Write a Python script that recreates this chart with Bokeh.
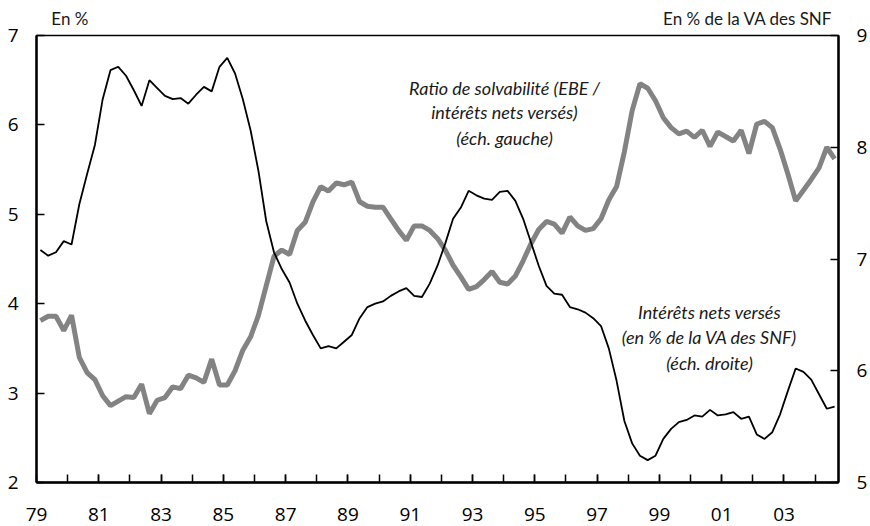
from bokeh.plotting import figure
from bokeh.models import Range1d, LinearAxis, FixedTicker, Label
from bokeh.embed import file_html
from bokeh.resources import INLINE
import numpy as np

# ---- data (quarterly, 1979Q1 .. 2004Q3) ----
start_year = 1979
ratio_solvabilite = [
    3.81, 3.86, 3.86, 3.70, 3.87, 3.40, 3.23, 3.15, 2.97, 2.86,
    2.91, 2.96, 2.95, 3.10, 2.77, 2.92, 2.95, 3.07, 3.05, 3.20,
    3.17, 3.12, 3.38, 3.09, 3.09, 3.25, 3.48, 3.63, 3.87, 4.20,
    4.53, 4.60, 4.55, 4.82, 4.91, 5.14, 5.31, 5.26, 5.35, 5.33,
    5.36, 5.14, 5.09, 5.08, 5.08, 4.95, 4.82, 4.71, 4.87, 4.87,
    4.82, 4.73, 4.60, 4.43, 4.30, 4.16, 4.19, 4.27, 4.36, 4.24,
    4.22, 4.31, 4.48, 4.67, 4.83, 4.92, 4.89, 4.79, 4.97, 4.87,
    4.82, 4.84, 4.95, 5.16, 5.31, 5.70, 6.16, 6.46, 6.41, 6.27,
    6.08, 5.97, 5.90, 5.93, 5.86, 5.94, 5.76, 5.92, 5.87, 5.82,
    5.94, 5.68, 6.01, 6.04, 5.97, 5.73, 5.45, 5.15, 5.27, 5.39,
    5.52, 5.75, 5.62,
]
interets_nets = [
    7.08, 7.03, 7.06, 7.16, 7.13, 7.49, 7.76, 8.02, 8.43, 8.69,
    8.72, 8.64, 8.51, 8.37, 8.60, 8.53, 8.46, 8.43, 8.44, 8.39,
    8.47, 8.54, 8.50, 8.72, 8.80, 8.66, 8.43, 8.15, 7.79, 7.34,
    7.06, 6.91, 6.79, 6.60, 6.45, 6.32, 6.20, 6.22, 6.20, 6.26,
    6.32, 6.47, 6.57, 6.60, 6.62, 6.67, 6.71, 6.74, 6.67, 6.66,
    6.78, 6.94, 7.14, 7.36, 7.46, 7.61, 7.57, 7.54, 7.53, 7.60,
    7.61, 7.52, 7.36, 7.15, 6.94, 6.76, 6.69, 6.68, 6.57, 6.55,
    6.52, 6.47, 6.40, 6.20, 5.91, 5.55, 5.35, 5.24, 5.20, 5.24,
    5.39, 5.48, 5.54, 5.56, 5.60, 5.59, 5.65, 5.60, 5.61, 5.63,
    5.57, 5.59, 5.43, 5.39, 5.45, 5.61, 5.82, 6.02, 5.99, 5.92,
    5.79, 5.66, 5.68,
]
x_tick_years = [1979, 1981, 1983, 1985, 1987, 1989, 1991, 1993, 1995, 1997, 1999, 2001, 2003]
x_tick_labels = ["79", "81", "83", "85", "87", "89", "91", "93", "95", "97", "99", "01", "03"]
x_minor_years = list(range(1980, 2005))
left_ticks = [2, 3, 4, 5, 6, 7]
right_ticks = [5, 6, 7, 8, 9]
unit_left = "En %"
unit_right = "En % de la VA des SNF"

n = len(ratio_solvabilite)
x = start_year + (np.arange(n) + 0.5) / 4.0

TICK_FONT = "Open Sans"
TXT_FONT = "Lato"

W, H = 870, 526
p = figure(width=W, height=H, output_backend="svg", toolbar_location=None,
           x_range=Range1d(1979, 2004.75), y_range=Range1d(2, 7),
           min_border_left=36, min_border_right=31, min_border_top=35, min_border_bottom=44)
p.extra_y_ranges = {"right": Range1d(5, 9)}
p.grid.visible = False
p.outline_line_color = "black"
p.outline_line_width = 1.3
p.background_fill_color = "white"
p.border_fill_color = "white"

# bottom axis
xa = p.xaxis[0]
xa.ticker = FixedTicker(ticks=x_tick_years, minor_ticks=x_minor_years)
xa.major_label_overrides = {y: l for y, l in zip(x_tick_years, x_tick_labels)}
xa.major_tick_in = 8
xa.major_tick_out = 0
xa.minor_tick_in = 8
xa.minor_tick_out = 0
xa.major_label_standoff = 25

# left axis
ya = p.yaxis[0]
ya.ticker = FixedTicker(ticks=left_ticks)
ya.major_label_standoff = 18

# right axis
ra = LinearAxis(y_range_name="right", ticker=FixedTicker(ticks=right_ticks))
ra.major_label_standoff = 18
p.add_layout(ra, "right")

for ax in [xa, ya, ra]:
    ax.axis_line_width = 2.5
    ax.axis_line_color = "black"
    ax.major_tick_line_width = 1.5
    ax.minor_tick_line_width = 1.5
    ax.major_label_text_font = TICK_FONT
    ax.major_label_text_font_size = "19px"
    ax.major_label_text_color = "black"
for ax in [ya, ra]:
    ax.major_tick_in = 8
    ax.major_tick_out = 0
    ax.minor_tick_in = 0
    ax.minor_tick_out = 0

# unit headers above the frame, drawn as the labels of a bare top axis
hdr_pos = [1980.07, 2001.84]
ta = LinearAxis(ticker=FixedTicker(ticks=hdr_pos, minor_ticks=[]),
                major_label_overrides={hdr_pos[0]: unit_left, hdr_pos[1]: unit_right})
ta.axis_line_color = None
ta.major_tick_line_color = None
ta.minor_tick_line_color = None
ta.major_tick_in = 0
ta.major_tick_out = 0
ta.major_label_standoff = 7
ta.major_label_text_font = TXT_FONT
ta.major_label_text_font_size = "17px"
ta.major_label_text_color = "#1a1a1a"
p.add_layout(ta, "above")

p.line(x, ratio_solvabilite, line_color="#838383", line_width=5)
p.line(x, interets_nets, line_color="black", line_width=1.8, y_range_name="right")

def lab(xv, yv, txt, align="center", size="18px"):
    p.add_layout(Label(x=xv, y=yv, text=txt, text_align=align, text_baseline="middle",
                       text_font=TXT_FONT, text_font_size=size, text_font_style="italic",
                       text_color="#1a1a1a"))

lab(1994.03, 6.418, "Ratio de solvabilité (EBE /")
lab(1994.03, 6.139, "intérêts nets versés)")
lab(1994.03, 5.848, "(éch. gauche)")

lab(2000.61, 3.902, "Intérêts nets versés")
lab(2000.61, 3.622, "(en % de la VA des SNF)")
lab(2000.61, 3.342, "(éch. droite)")

open("out.html", "w").write(file_html(p, INLINE))
